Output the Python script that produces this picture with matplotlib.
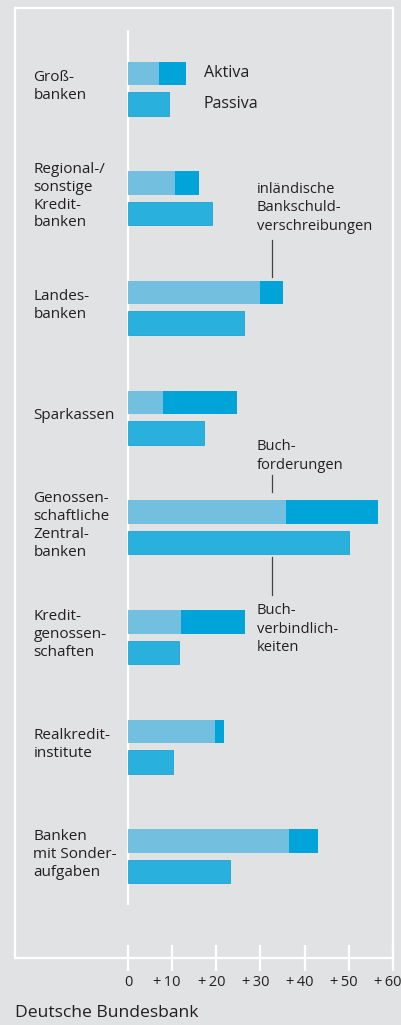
import numpy as np
import matplotlib
matplotlib.use("Agg")
import matplotlib.pyplot as plt
from matplotlib.transforms import ScaledTranslation

# data (Mrd Euro)
categories = ["Groß-\nbanken", "Regional-/\nsonstige\nKredit-\nbanken", "Landes-\nbanken",
              "Sparkassen", "Genossen-\nschaftliche\nZentral-\nbanken", "Kredit-\ngenossen-\nschaften",
              "Realkredit-\ninstitute", "Banken\nmit Sonder-\naufgaben"]
schuldverschreibungen = [7.0, 10.6, 29.9, 7.85, 35.7, 12.0, 19.8, 36.45]
aktiva_total = [13.1, 16.1, 35.1, 24.6, 56.7, 26.5, 21.8, 43.0]
buchverbindlichkeiten = [9.35, 19.1, 26.25, 17.3, 50.1, 11.55, 10.3, 23.1]
ticks = [0, 10, 20, 30, 40, 50, 60]

buchforderungen = np.array(aktiva_total) - np.array(schuldverschreibungen)

BG = "#e1e2e4"
C_LIGHT = "#72bfe0"
C_DARK = "#00a4d9"
C_PAS = "#29b0dc"
TXT = "#231f20"
LINE = "#444444"

plt.rcParams["font.family"] = ["Open Sans", "DejaVu Sans"]

fig = plt.figure(figsize=(4.01, 10.25), dpi=100, facecolor=BG)
ax = fig.add_axes([15 / 401, 1 - 958 / 1025, 378 / 401, 950 / 1025], facecolor=BG)

pos = np.arange(len(categories))
h = 0.214
off = 0.278
ax.barh(pos, schuldverschreibungen, height=h, color=C_LIGHT, lw=0)
ax.barh(pos, buchforderungen, left=schuldverschreibungen, height=h, color=C_DARK, lw=0)
ax.barh(pos + off, buchverbindlichkeiten, height=h, color=C_PAS, edgecolor="#1ea3d5", lw=0.6)

ax.set_xlim(-25.58, 60)
ax.set_ylim(8.065, -0.595)

# zero line
ax.plot([0, 0], [-0.394, 7.582], color="white", lw=1.6, solid_capstyle="butt", zorder=0)

for s in ax.spines.values():
    s.set_color("white")
    s.set_linewidth(1.6)

ax.set_yticks([])
ax.set_xticks(ticks)
ax.set_xticklabels(["0"] + ["+\u2009%d" % t for t in ticks[1:]])
ax.tick_params(axis="x", direction="inout", length=19, width=1.6, color="white",
               labelsize=10.5, labelcolor=TXT, pad=3)
for lab in ax.get_xticklabels()[1:]:
    lab.set_transform(lab.get_transform() + ScaledTranslation(-5 / 100, 0, fig.dpi_scale_trans))

# category labels
for i, c in enumerate(categories):
    ax.text(-21.4, i + off / 2 - 0.02, c, ha="left", va="center", fontsize=11, color=TXT,
            linespacing=1.27)

# legend texts
ax.text(17.2, 0, "Aktiva", ha="left", va="center", fontsize=11.5, color=TXT)
ax.text(17.2, off, "Passiva", ha="left", va="center", fontsize=11.5, color=TXT)

# annotations
kw = dict(ha="left", va="center", fontsize=10.6, color=TXT, linespacing=1.32)
ax.text(29.2, 1.228, "inländische\nBankschuld-\nverschreibungen", **kw)
ax.plot([32.67, 32.67], [1.52, 1.86], color=LINE, lw=0.9)
ax.text(29.2, 3.49, "Buch-\nforderungen", **kw)
ax.plot([32.67, 32.67], [3.66, 3.82], color=LINE, lw=0.9)
ax.plot([32.67, 32.67], [4.41, 4.755], color=LINE, lw=0.9)
ax.text(29.2, 5.066, "Buch-\nverbindlich-\nkeiten", **kw)

fig.text(15 / 401, 1 - 1013 / 1025, "Deutsche Bundesbank", ha="left", va="center",
         fontsize=12.6, color=TXT)

fig.savefig("out.png", dpi=100, facecolor=BG)
